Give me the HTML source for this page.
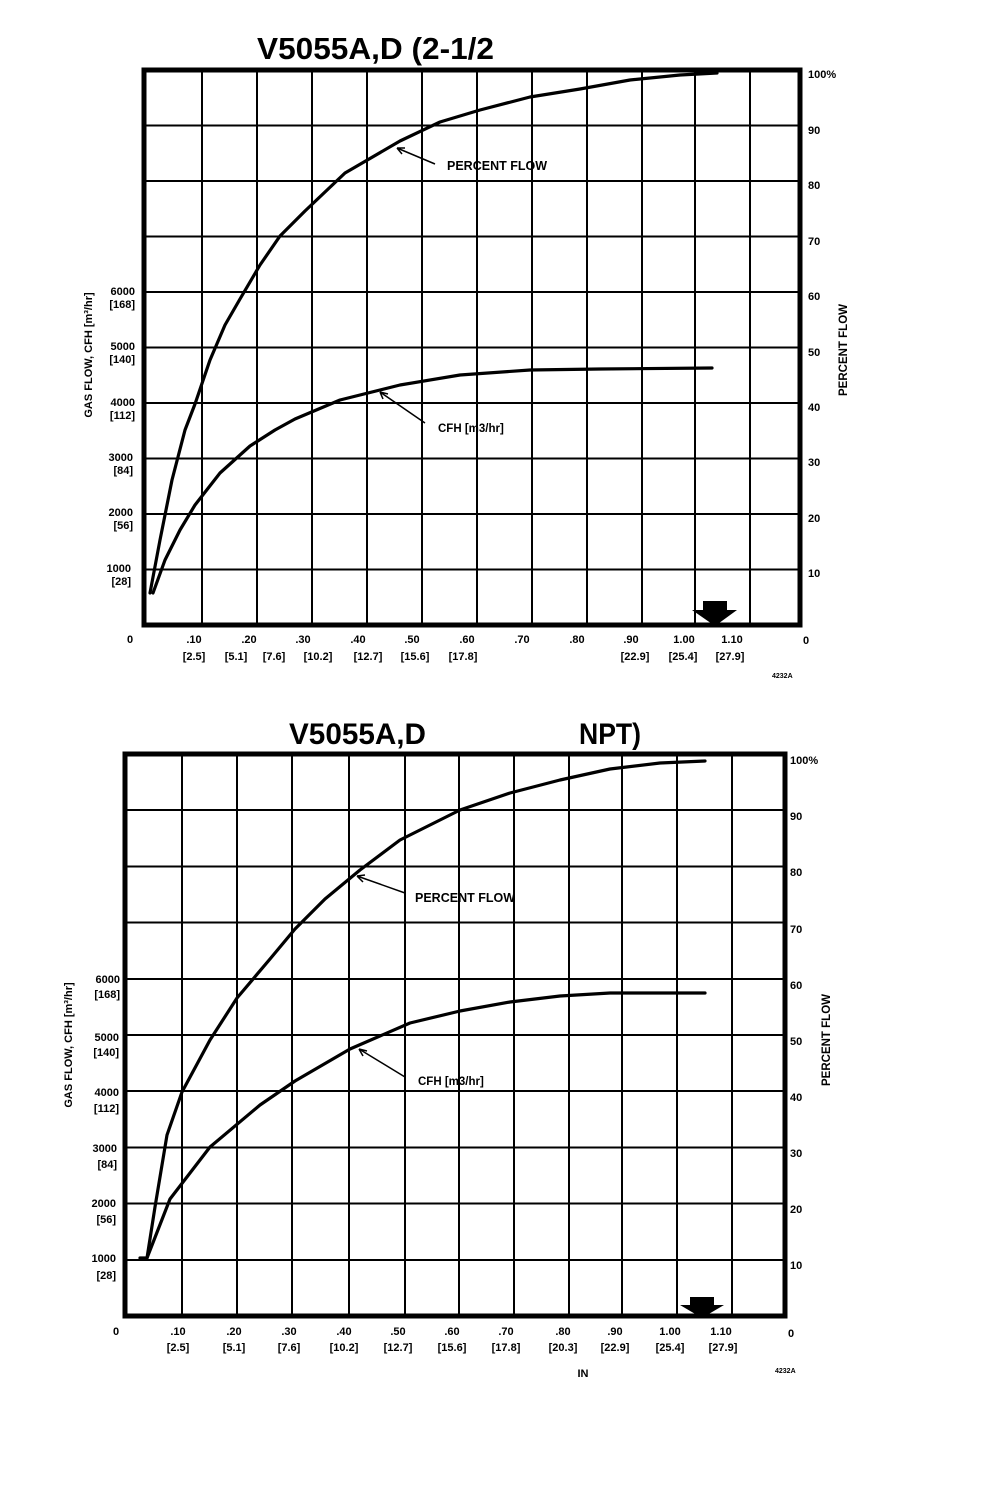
<!DOCTYPE html>
<html><head><meta charset="utf-8"><style>
html,body{margin:0;padding:0;background:#fff}
svg{display:block}
text{font-family:"Liberation Sans",sans-serif;font-weight:bold;fill:#000}
</style></head><body>
<svg width="994" height="1512" viewBox="0 0 994 1512" xmlns="http://www.w3.org/2000/svg">
<!-- ===== Chart 1 ===== -->
<text x="257" y="59" font-size="31" textLength="237" lengthAdjust="spacingAndGlyphs" font-family="Liberation Sans Narrow">V5055A,D (2-1/2</text>
<g stroke="#000" stroke-width="2" fill="none">
<path d="M202 70V625M257 70V625M312 70V625M367 70V625M422 70V625M477 70V625M532 70V625M587 70V625M642 70V625M695 70V625M750 70V625"/>
<path d="M144 125.5H800M144 181H800M144 236.5H800M144 292H800M144 347.5H800M144 403H800M144 458.5H800M144 514H800M144 569.5H800"/>
</g>
<rect x="144" y="70" width="656" height="555" fill="none" stroke="#000" stroke-width="5"/>
<g stroke="#000" stroke-width="3.2" fill="none" stroke-linejoin="round" stroke-linecap="round">
<polyline points="150,593 160,540 172,480 185,430 195,404 210,360 225,325 240,299 260,265 280,236 305,211 345,173 400,141 440,122 480,110 530,97 580,89 630,80 680,75 717,73"/>
<polyline points="153,593 165,560 180,530 195,505 220,473 250,446 275,430 295,419 340,400 400,385 460,375 530,370 600,369 712,368"/>
</g>
<g stroke="#000" stroke-width="1.5" fill="none">
<path d="M435 164L397 148M397 148l8 0M397 148l5 6"/>
<path d="M425 423L380 392M380 392l8 2M380 392l3 7"/>
</g>
<text x="447" y="170" font-size="12.5">PERCENT FLOW</text>
<text x="438" y="432" font-size="11.5">CFH [m3/hr]</text>
<path d="M703 601H727V610H737L715 626L692 610H703Z" fill="#000"/>
<g font-size="11">
<text x="808" y="78">100%</text>
<text x="808" y="134">90</text><text x="808" y="189">80</text><text x="808" y="245">70</text>
<text x="808" y="300">60</text><text x="808" y="356">50</text><text x="808" y="411">40</text>
<text x="808" y="466">30</text><text x="808" y="522">20</text><text x="808" y="577">10</text>
<text x="803" y="644">0</text>
<g text-anchor="end">
<text x="135" y="295">6000</text><text x="135" y="308">[168]</text>
<text x="135" y="350">5000</text><text x="135" y="363">[140]</text>
<text x="135" y="406">4000</text><text x="135" y="419">[112]</text>
<text x="133" y="461">3000</text><text x="133" y="474">[84]</text>
<text x="133" y="516">2000</text><text x="133" y="529">[56]</text>
<text x="131" y="572">1000</text><text x="131" y="585">[28]</text>
</g>
<text x="127" y="643">0</text>
<g text-anchor="middle">
<text x="194" y="643">.10</text><text x="249" y="643">.20</text><text x="303" y="643">.30</text>
<text x="358" y="643">.40</text><text x="412" y="643">.50</text><text x="467" y="643">.60</text>
<text x="522" y="643">.70</text><text x="577" y="643">.80</text><text x="631" y="643">.90</text>
<text x="684" y="643">1.00</text><text x="732" y="643">1.10</text>
<text x="194" y="660">[2.5]</text><text x="236" y="660">[5.1]</text><text x="274" y="660">[7.6]</text>
<text x="318" y="660">[10.2]</text><text x="368" y="660">[12.7]</text><text x="415" y="660">[15.6]</text>
<text x="463" y="660">[17.8]</text><text x="635" y="660">[22.9]</text><text x="683" y="660">[25.4]</text>
<text x="730" y="660">[27.9]</text>
</g>
</g>
<text x="772" y="678" font-size="7">4232A</text>
<text transform="translate(92,355) rotate(-90)" font-size="11" text-anchor="middle">GAS FLOW, CFH [m³/hr]</text>
<text transform="translate(847,350) rotate(-90)" font-size="11.5" text-anchor="middle">PERCENT FLOW</text>

<!-- ===== Chart 2 ===== -->
<text x="289" y="744" font-size="30" textLength="137" lengthAdjust="spacingAndGlyphs">V5055A,D</text>
<text x="579" y="744" font-size="30" textLength="62" lengthAdjust="spacingAndGlyphs">NPT)</text>
<g stroke="#000" stroke-width="2" fill="none">
<path d="M182 754V1316M237 754V1316M292 754V1316M349 754V1316M405 754V1316M459 754V1316M514 754V1316M569 754V1316M622 754V1316M677 754V1316M732 754V1316"/>
<path d="M125 810H785M125 866.5H785M125 922.5H785M125 979H785M125 1035H785M125 1091H785M125 1147.5H785M125 1203.5H785M125 1260H785"/>
</g>
<rect x="125" y="754" width="660" height="562" fill="none" stroke="#000" stroke-width="5"/>
<g stroke="#000" stroke-width="3.2" fill="none" stroke-linejoin="round" stroke-linecap="round">
<polyline points="140,1258 147,1258 155,1207 167,1135 182,1092 210,1040 237,998 270,959 295,929 325,899 360,870 400,840 460,810 510,793 560,780 610,769 660,763 705,761"/>
<polyline points="147,1258 170,1199 210,1147 260,1105 295,1081 350,1049 410,1023 460,1011 510,1002 560,996 610,993 705,993"/>
</g>
<g stroke="#000" stroke-width="1.5" fill="none">
<path d="M405 893L357 876M357 876l8 -1M357 876l6 6"/>
<path d="M405 1077L359 1049M359 1049l8 2M359 1049l4 7"/>
</g>
<text x="415" y="902" font-size="12.5">PERCENT FLOW</text>
<text x="418" y="1085" font-size="11.5">CFH [m3/hr]</text>
<path d="M690 1297H714V1305H724L702 1318L680 1305H690Z" fill="#000"/>
<g font-size="11">
<text x="790" y="764">100%</text>
<text x="790" y="820">90</text><text x="790" y="876">80</text><text x="790" y="933">70</text>
<text x="790" y="989">60</text><text x="790" y="1045">50</text><text x="790" y="1101">40</text>
<text x="790" y="1157">30</text><text x="790" y="1213">20</text><text x="790" y="1269">10</text>
<text x="788" y="1337">0</text>
<g text-anchor="end">
<text x="120" y="983">6000</text><text x="120" y="998">[168]</text>
<text x="119" y="1041">5000</text><text x="119" y="1056">[140]</text>
<text x="119" y="1096">4000</text><text x="119" y="1112">[112]</text>
<text x="117" y="1152">3000</text><text x="117" y="1168">[84]</text>
<text x="116" y="1207">2000</text><text x="116" y="1223">[56]</text>
<text x="116" y="1262">1000</text><text x="116" y="1279">[28]</text>
</g>
<text x="113" y="1335">0</text>
<g text-anchor="middle">
<text x="178" y="1335">.10</text><text x="234" y="1335">.20</text><text x="289" y="1335">.30</text>
<text x="344" y="1335">.40</text><text x="398" y="1335">.50</text><text x="452" y="1335">.60</text>
<text x="506" y="1335">.70</text><text x="563" y="1335">.80</text><text x="615" y="1335">.90</text>
<text x="670" y="1335">1.00</text><text x="721" y="1335">1.10</text>
<text x="178" y="1351">[2.5]</text><text x="234" y="1351">[5.1]</text><text x="289" y="1351">[7.6]</text>
<text x="344" y="1351">[10.2]</text><text x="398" y="1351">[12.7]</text><text x="452" y="1351">[15.6]</text>
<text x="506" y="1351">[17.8]</text><text x="563" y="1351">[20.3]</text><text x="615" y="1351">[22.9]</text>
<text x="670" y="1351">[25.4]</text><text x="723" y="1351">[27.9]</text>
</g>
<text x="583" y="1377" text-anchor="middle">IN</text>
</g>
<text x="775" y="1373" font-size="7">4232A</text>
<text transform="translate(72,1045) rotate(-90)" font-size="11" text-anchor="middle">GAS FLOW, CFH [m³/hr]</text>
<text transform="translate(830,1040) rotate(-90)" font-size="11.5" text-anchor="middle">PERCENT FLOW</text>
</svg>
</body></html>
